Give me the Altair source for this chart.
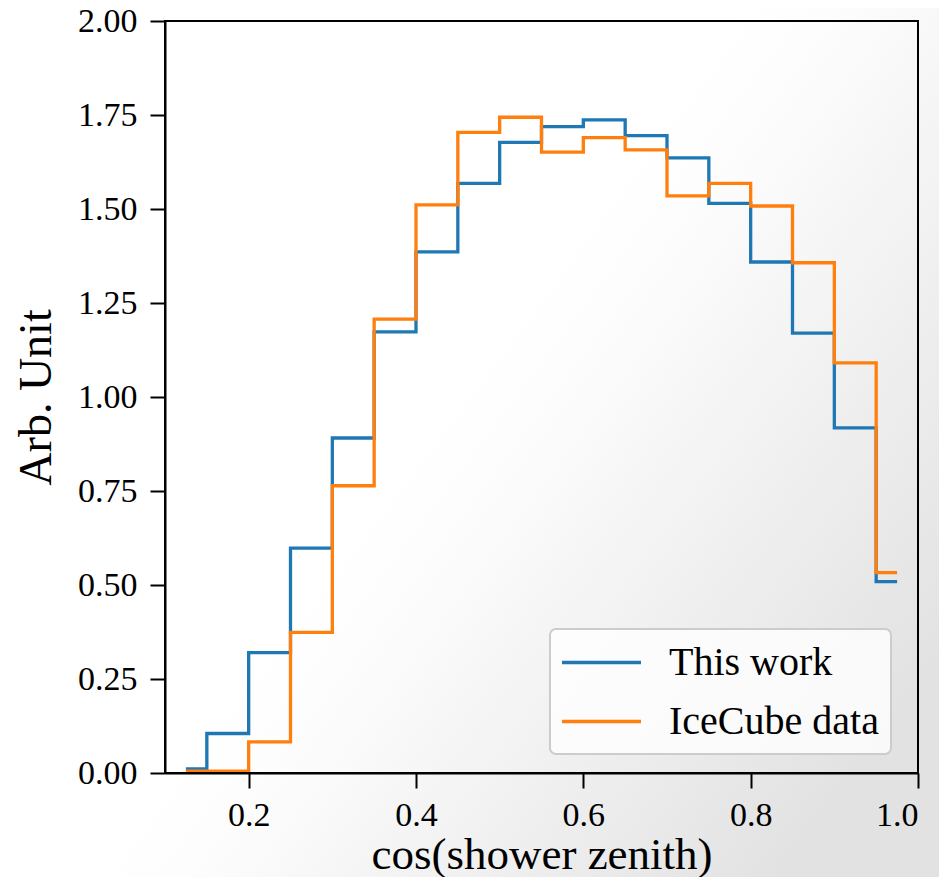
import altair as alt
import pandas as pd

# Bin centres (bin width 0.05; step changes happen at bin edges)
centers = [0.125, 0.175, 0.225, 0.275, 0.325, 0.375, 0.425, 0.475, 0.525,
           0.575, 0.625, 0.675, 0.725, 0.775, 0.825, 0.875, 0.925, 0.975]
this_work = [0.011, 0.105, 0.320, 0.598, 0.891, 1.173, 1.386, 1.568, 1.677,
             1.719, 1.737, 1.695, 1.636, 1.515, 1.359, 1.170, 0.918, 0.509]
icecube = [0.005, 0.005, 0.083, 0.374, 0.764, 1.207, 1.511, 1.704, 1.744,
           1.651, 1.690, 1.657, 1.535, 1.568, 1.508, 1.357, 1.091, 0.533]
series_names = ["This work", "IceCube data"]
series_colors = ["#1f77b4", "#ff7f0e"]
x_ticks = [0.2, 0.4, 0.6, 0.8, 1.0]
y_ticks = [0.0, 0.25, 0.5, 0.75, 1.0, 1.25, 1.5, 1.75, 2.0]

rows = []
for c, a, b in zip(centers, this_work, icecube):
    rows.append({"x": c, "y": a, "series": series_names[0]})
    rows.append({"x": c, "y": b, "series": series_names[1]})
df = pd.DataFrame(rows)

FONT = "Liberation Serif"
W, H = 753, 752
PAD = {"left": 157, "top": 13, "right": 21, "bottom": 104}

color = alt.Color(
    "series:N",
    scale=alt.Scale(domain=series_names, range=series_colors),
    sort=series_names,
    legend=alt.Legend(
        title=None, orient="none", legendX=385, legendY=608,
        symbolType="M-2,0H2", symbolSize=1560, symbolStrokeWidth=3.3,
        symbolOffset=18,
        labelFont=FONT, labelFontSize=40, labelColor="black", labelLimit=400,
        labelOffset=46, rowPadding=17, padding=12,
        strokeColor="#cccccc", fillColor="rgba(255,255,255,0.8)",
    ),
)

xenc = alt.X("x:Q", scale=alt.Scale(domain=[0.1, 1.0], nice=False, zero=False),
             axis=alt.Axis(title="cos(shower zenith)", values=x_ticks, format=".1f",
                           zindex=2))
yenc = alt.Y("y:Q", scale=alt.Scale(domain=[0, 2], nice=False),
             axis=alt.Axis(title="Arb. Unit", values=y_ticks, format=".2f",
                           zindex=2))

bg = alt.Chart(pd.DataFrame({"d": [0]})).mark_rect(
    clip=False,
    fill=alt.Gradient(
        gradient="linear", x1=0.5, y1=0.4, x2=1, y2=0.75,
        stops=[alt.GradientStop(offset=0, color="#ffffff"),
               alt.GradientStop(offset=0.15, color="#fdfdfd"),
               alt.GradientStop(offset=1, color="#e2e2e2")],
    ),
).encode(
    x=alt.value(-PAD["left"]), x2=alt.value(W + PAD["right"]),
    y=alt.value(-PAD["top"]), y2=alt.value(H + PAD["bottom"]),
)

base = alt.Chart(df)
line_blue = base.transform_filter(alt.datum.series == series_names[0]).mark_line(
    interpolate="step", strokeWidth=3.3).encode(x=xenc, y=yenc, color=color)
line_orange = base.transform_filter(alt.datum.series == series_names[1]).mark_line(
    interpolate="step", strokeWidth=3.3).encode(x=xenc, y=yenc, color=color)

frame = alt.Chart(pd.DataFrame({"d": [0]})).mark_rect(
    filled=False, stroke="black", strokeWidth=2, clip=False,
).encode(
    x=alt.value(0), x2=alt.value(W), y=alt.value(0), y2=alt.value(H),
)

chart = alt.layer(bg, line_blue, line_orange, frame).properties(
    width=W, height=H,
    autosize=alt.AutoSizeParams(type="none"),
    padding=PAD,
    background="transparent",
).configure_view(
    stroke=None, fill=None,
).configure_legend(
    strokeWidth=2, cornerRadius=6,
).configure_axis(
    labelFont=FONT, titleFont=FONT, labelFontSize=34, titleFontSize=46,
    labelColor="black", titleColor="black", titleFontWeight="normal",
    domainColor="black", domainWidth=2, tickColor="black", tickWidth=2,
    tickSize=15, grid=False,
).configure_axisY(
    titlePadding=17, labelPadding=13,
).configure_axisX(
    titlePadding=0, labelPadding=10, titleFontSize=45,
)

chart.save("out.html", embed_options={"renderer": "svg", "actions": False})
